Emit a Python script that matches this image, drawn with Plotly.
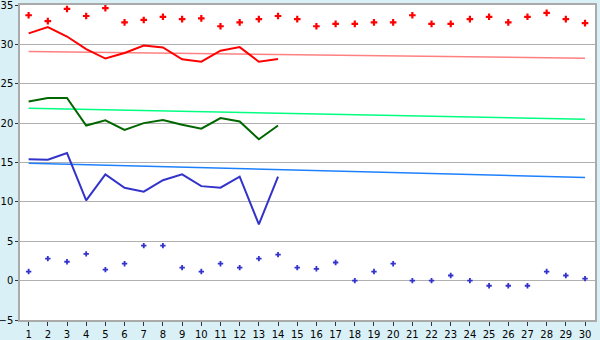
import plotly.graph_objects as go

days = list(range(1, 31))
obs_days = list(range(1, 15))

record_max = [33.7, 32.95, 34.5, 33.6, 34.6, 32.8, 33.1, 33.5, 33.2, 33.3,
              32.3, 32.8, 33.2, 33.6, 33.2, 32.3, 32.6, 32.6, 32.8, 32.8,
              33.7, 32.6, 32.6, 33.2, 33.5, 32.8, 33.5, 34.0, 33.2, 32.7]
record_min = [1.15, 2.8, 2.4, 3.4, 1.4, 2.15, 4.45, 4.45, 1.65, 1.15,
              2.15, 1.65, 2.8, 3.3, 1.65, 1.5, 2.3, 0.0, 1.15, 2.15,
              0.0, 0.0, 0.65, 0.0, -0.65, -0.65, -0.65, 1.15, 0.65, 0.25]
obs_max = [31.4, 32.2, 31.0, 29.4, 28.2, 28.9, 29.85, 29.6, 28.1, 27.8,
           29.2, 29.65, 27.8, 28.15]
obs_mean = [22.75, 23.2, 23.2, 19.7, 20.35, 19.15, 20.0, 20.4, 19.8, 19.3,
            20.65, 20.2, 17.95, 19.7]
obs_min = [15.4, 15.35, 16.2, 10.2, 13.5, 11.8, 11.3, 12.75, 13.5, 12.0,
           11.8, 13.2, 7.15, 13.2]
normal_days = [1, 30]
normal_max = [29.1, 28.25]
normal_mean = [21.9, 20.5]
normal_min = [14.9, 13.1]

fig = go.Figure()
fig.add_trace(go.Scatter(x=normal_days, y=normal_max, mode="lines",
                         line=dict(color="#ff8080", width=1.5)))
fig.add_trace(go.Scatter(x=normal_days, y=normal_mean, mode="lines",
                         line=dict(color="#00ff80", width=1.5)))
fig.add_trace(go.Scatter(x=normal_days, y=normal_min, mode="lines",
                         line=dict(color="#1e80ff", width=1.5)))
fig.add_trace(go.Scatter(x=obs_days, y=obs_max, mode="lines",
                         line=dict(color="#ff0000", width=2)))
fig.add_trace(go.Scatter(x=obs_days, y=obs_mean, mode="lines",
                         line=dict(color="#006600", width=2)))
fig.add_trace(go.Scatter(x=obs_days, y=obs_min, mode="lines",
                         line=dict(color="#3333cc", width=2)))
fig.add_trace(go.Scatter(x=days, y=record_max, mode="markers",
                         marker=dict(symbol="cross", size=5.5, color="#ff0000",
                                     line=dict(width=0))))
fig.add_trace(go.Scatter(x=days, y=record_min, mode="markers",
                         marker=dict(symbol="cross", size=4.5, color="#3333cc",
                                     line=dict(width=0))))

fig.update_layout(
    width=600, height=340,
    margin=dict(l=20, r=5, t=5, b=20, autoexpand=False),
    paper_bgcolor="#d9f0f7",
    plot_bgcolor="#ffffff",
    showlegend=False,
    font=dict(family="DejaVu Sans", size=10, color="#000000"),
    xaxis=dict(range=[0.55, 30.52], tickmode="array", tickvals=days,
               ticks="outside", ticklen=4, tickcolor="#333333",
               showgrid=False, zeroline=False, showline=True,
               linecolor="#aaaaaa", linewidth=1.5, mirror=True,
               automargin=False, fixedrange=True,
               ticklabeloverflow="allow"),
    yaxis=dict(range=[-5, 35], tickmode="linear", tick0=-5, dtick=5,
               ticks="outside", ticklen=3, tickcolor="#333333",
               showgrid=True, gridcolor="#b0b0b0", gridwidth=1,
               zeroline=False, showline=True, linecolor="#aaaaaa",
               linewidth=1.5, mirror=True, automargin=False,
               fixedrange=True, ticklabeloverflow="allow"),
)
fig.write_html("out.html")
